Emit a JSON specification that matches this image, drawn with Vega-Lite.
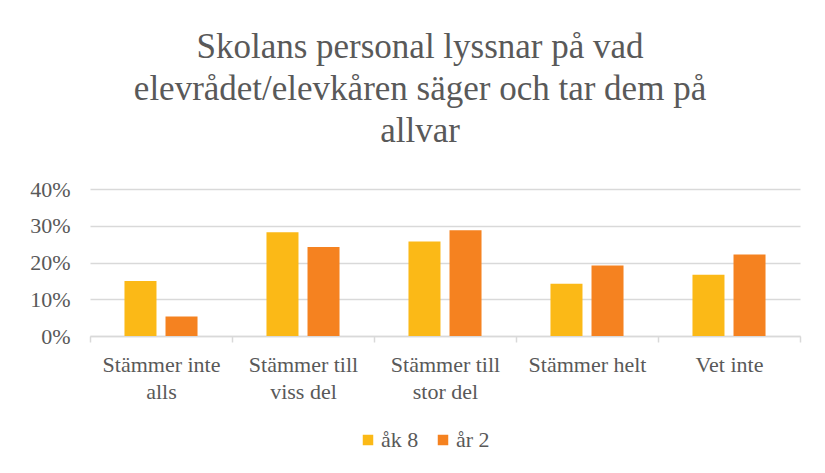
{
  "$schema": "https://vega.github.io/schema/vega-lite/v6.json",
  "autosize": {"type": "none"},
  "padding": {"left": 90, "top": 189, "right": 25, "bottom": 137},
  "width": 710,
  "height": 147,
  "background": "white",
  "title": {
    "text": ["Skolans personal lyssnar på vad", "elevrådet/elevkåren säger och tar dem på", "allvar"],
    "anchor": "middle",
    "font": "Liberation Serif",
    "fontSize": 35,
    "fontWeight": "normal",
    "color": "#595959",
    "lineHeight": 42,
    "offset": 29,
    "dx": -25
  },
  "data": {
    "values": [
      {"svar": "Stämmer inte alls", "grupp": "åk 8", "andel": 0.150},
      {"svar": "Stämmer inte alls", "grupp": "år 2", "andel": 0.053},
      {"svar": "Stämmer till viss del", "grupp": "åk 8", "andel": 0.282},
      {"svar": "Stämmer till viss del", "grupp": "år 2", "andel": 0.242},
      {"svar": "Stämmer till stor del", "grupp": "åk 8", "andel": 0.257},
      {"svar": "Stämmer till stor del", "grupp": "år 2", "andel": 0.288},
      {"svar": "Stämmer helt", "grupp": "åk 8", "andel": 0.142},
      {"svar": "Stämmer helt", "grupp": "år 2", "andel": 0.192},
      {"svar": "Vet inte", "grupp": "åk 8", "andel": 0.167},
      {"svar": "Vet inte", "grupp": "år 2", "andel": 0.222}
    ]
  },
  "mark": {"type": "bar"},
  "encoding": {
    "x": {
      "field": "svar",
      "type": "nominal",
      "sort": null,
      "scale": {"paddingInner": 0, "paddingOuter": 0},
      "axis": {
        "title": null,
        "labelAngle": 0,
        "labelFont": "Liberation Serif",
        "labelFontSize": 22,
        "labelColor": "#595959",
        "labelLineHeight": 27,
        "labelPadding": 12,
        "tickBand": "extent",
        "tickColor": "#d9d9d9",
        "tickWidth": 1.5,
        "tickSize": 6,
        "domainColor": "#d9d9d9",
        "domainWidth": 1.5,
        "labelExpr": "datum.label == 'Stämmer inte alls' ? ['Stämmer inte', 'alls'] : datum.label == 'Stämmer till viss del' ? ['Stämmer till', 'viss del'] : datum.label == 'Stämmer till stor del' ? ['Stämmer till', 'stor del'] : datum.label"
      }
    },
    "xOffset": {
      "field": "grupp",
      "type": "nominal",
      "scale": {"domain": ["åk 8", "år 2"], "paddingInner": 0.22, "paddingOuter": 0.84}
    },
    "y": {
      "field": "andel",
      "type": "quantitative",
      "scale": {"domain": [0, 0.4], "nice": false},
      "axis": {
        "title": null,
        "format": ".0%",
        "values": [0, 0.1, 0.2, 0.3, 0.4],
        "domain": false,
        "ticks": false,
        "labelPadding": 20,
        "labelFont": "Liberation Serif",
        "labelFontSize": 22,
        "labelColor": "#595959",
        "gridColor": "#d9d9d9",
        "gridWidth": 1.5
      }
    },
    "color": {
      "field": "grupp",
      "type": "nominal",
      "scale": {"domain": ["åk 8", "år 2"], "range": ["#FBB917", "#F58220"]},
      "legend": {
        "title": null,
        "orient": "none",
        "legendX": 267,
        "legendY": 240,
        "direction": "horizontal",
        "symbolType": "square",
        "symbolSize": 110,
        "symbolStrokeWidth": 0,
        "labelFont": "Liberation Serif",
        "labelFontSize": 22,
        "labelColor": "#595959",
        "labelOffset": 2,
        "columnPadding": 13
      }
    }
  },
  "config": {
    "view": {"stroke": null}
  }
}
